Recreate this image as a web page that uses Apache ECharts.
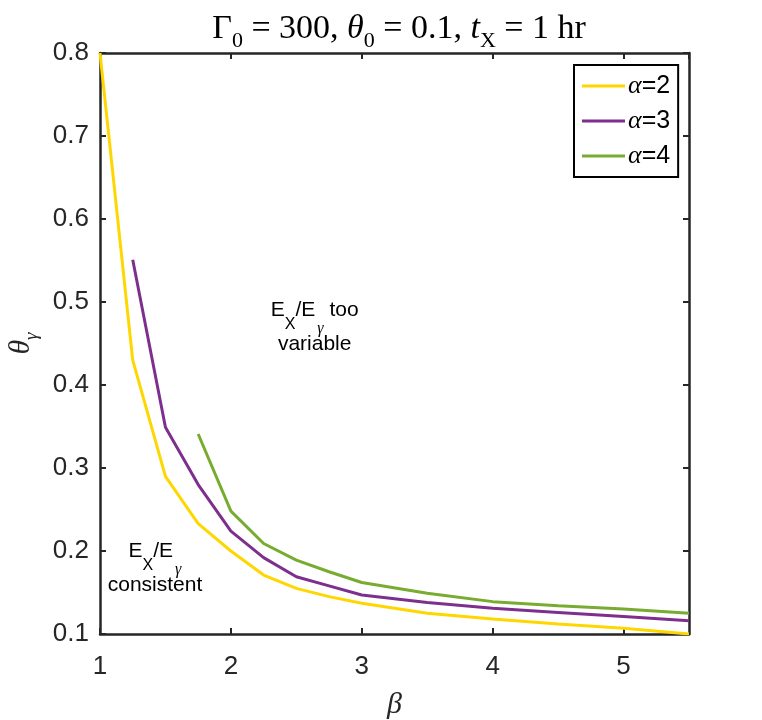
<!DOCTYPE html>
<html>
<head>
<meta charset="utf-8">
<script src="https://cdn.jsdelivr.net/npm/echarts@6/dist/echarts.min.js"></script>
<style>
  html, body { margin: 0; padding: 0; background: #fff; }
  #chart { width: 762px; height: 720px; }
</style>
</head>
<body>
<div id="chart"></div>
<script>
// beta grid and theta_gamma curves, one per alpha
var beta2 = [1, 1.25, 1.5, 1.75, 2, 2.25, 2.5, 2.75, 3, 3.5, 4, 4.5, 5, 5.5];
var theta2 = [0.80, 0.43, 0.29, 0.233, 0.200, 0.171, 0.155, 0.145, 0.137, 0.125, 0.118, 0.112, 0.107, 0.100];

var beta3 = [1.25, 1.5, 1.75, 2, 2.25, 2.5, 2.75, 3, 3.5, 4, 4.5, 5, 5.5];
var theta3 = [0.551, 0.349, 0.280, 0.224, 0.192, 0.169, 0.158, 0.147, 0.138, 0.131, 0.126, 0.121, 0.116];

var beta4 = [1.75, 2, 2.25, 2.5, 2.75, 3, 3.5, 4, 4.5, 5, 5.5];
var theta4 = [0.341, 0.248, 0.209, 0.189, 0.175, 0.162, 0.149, 0.139, 0.134, 0.130, 0.125];

var alphaNames = ['2', '3', '4'];

function pairs(xs, ys) {
    return xs.map(function (x, i) { return [x, ys[i]]; });
}

(function () {
    var chart = echarts.init(document.getElementById('chart'));

    var axisColor = '#262626';
    var sans = 'Liberation Sans';
    var serif = 'Liberation Serif';

    var tickAxis = {
        axisLine: { show: true, lineStyle: { color: axisColor, width: 2.5 } },
        axisTick: { show: true, inside: true, length: 6, lineStyle: { color: axisColor, width: 2 } },
        splitLine: { show: false }
    };

    var noteRich = {
        n: { fontFamily: sans, fontSize: 21, color: '#000', lineHeight: 34, verticalAlign: 'top' },
        sx: { fontFamily: sans, fontSize: 16, color: '#000', lineHeight: 16, padding: [17, 0, 0, 0], verticalAlign: 'top' },
        sg: { fontFamily: serif, fontStyle: 'italic', fontSize: 16, color: '#000', lineHeight: 16, padding: [21, 0, 0, 2], verticalAlign: 'top' }
    };

    var option = {
        backgroundColor: '#fff',
        animation: false,

        title: {
            text: '{m|Γ}{s|0}{m| = 300, }{i|θ}{s|0}{m| = 0.1, }{i|t}{s|X}{m| = 1 hr}',
            left: 394,
            textAlign: 'center',
            top: 7,
            textStyle: {
                fontWeight: 'normal',
                rich: {
                    m: { fontFamily: serif, fontWeight: 'normal', fontSize: 34, color: '#000', lineHeight: 36, verticalAlign: 'top' },
                    i: { fontFamily: serif, fontWeight: 'normal', fontStyle: 'italic', fontSize: 34, color: '#000', lineHeight: 36, verticalAlign: 'top' },
                    s: { fontFamily: serif, fontWeight: 'normal', fontSize: 22, color: '#000', lineHeight: 22, padding: [18, 0, 0, 0], verticalAlign: 'top' }
                }
            }
        },

        legend: {
            orient: 'vertical',
            left: 574,
            top: 65,
            padding: [8, 8, 8, 8],
            itemGap: 9,
            itemWidth: 43,
            itemHeight: 3,
            icon: 'rect',
            backgroundColor: '#fff',
            borderColor: '#000',
            borderWidth: 2,
            borderRadius: 0,
            data: alphaNames.map(function (a) { return 'α=' + a; }),
            formatter: function (name) {
                return '{a|α}{b|' + name.slice(1) + '}';
            },
            textStyle: {
                padding: [0, 0, 0, -2],
                rich: {
                    a: { fontFamily: serif, fontStyle: 'italic', fontSize: 26, color: '#000', lineHeight: 24 },
                    b: { fontFamily: sans, fontSize: 25, color: '#000', lineHeight: 24 }
                }
            }
        },

        grid: {
            left: 100,
            right: 73,
            top: 53,
            bottom: 86,
            containLabel: false,
            outerBoundsMode: 'none'
        },

        xAxis: [
            Object.assign({
                type: 'value',
                min: 1,
                max: 5.5,
                interval: 1,
                position: 'bottom',
                name: 'β',
                nameLocation: 'middle',
                nameGap: 56,
                nameTextStyle: { fontFamily: serif, fontStyle: 'italic', fontSize: 30, color: axisColor },
                axisLabel: {
                    fontFamily: sans,
                    fontSize: 26,
                    color: axisColor,
                    margin: 20,
                    showMaxLabel: false
                }
            }, tickAxis),
            Object.assign({
                type: 'value',
                min: 1,
                max: 5.5,
                interval: 1,
                position: 'top',
                axisLabel: { show: false }
            }, tickAxis)
        ],

        yAxis: [
            Object.assign({
                type: 'value',
                min: 0.1,
                max: 0.8,
                interval: 0.1,
                position: 'left',
                name: '{t|θ}{g|γ}',
                nameLocation: 'middle',
                nameGap: 64,
                nameTextStyle: {
                    rich: {
                        t: { fontFamily: serif, fontStyle: 'italic', fontSize: 30, color: axisColor, lineHeight: 30, verticalAlign: 'top' },
                        g: { fontFamily: serif, fontStyle: 'italic', fontSize: 19, color: axisColor, lineHeight: 19, padding: [16, 0, 0, 0], verticalAlign: 'top' }
                    }
                },
                axisLabel: {
                    fontFamily: sans,
                    fontSize: 26,
                    color: axisColor,
                    margin: 11,
                    formatter: function (v) { return v.toFixed(1); }
                }
            }, tickAxis),
            Object.assign({
                type: 'value',
                min: 0.1,
                max: 0.8,
                interval: 0.1,
                position: 'right',
                axisLabel: { show: false }
            }, tickAxis)
        ],

        series: [
            {
                name: 'α=2',
                type: 'line',
                data: pairs(beta2, theta2),
                showSymbol: false,
                color: '#FFD700',
                lineStyle: { width: 3, color: '#FFD700' },
                z: 3,
                markPoint: {
                    symbol: 'circle',
                    symbolSize: 0,
                    silent: true,
                    label: {
                        show: true,
                        position: 'inside',
                        align: 'center',
                        rich: noteRich
                    },
                    data: [
                        {
                            coord: [2.64, 0.462],
                            label: { formatter: '{n|E}{sx|X}{n|/E}{sg|γ}{n| too}\n{n|variable}' }
                        },
                        {
                            coord: [1.42, 0.171],
                            label: { formatter: '{n|E}{sx|X}{n|/E}{sg|γ}\n{n|consistent}' }
                        }
                    ]
                }
            },
            {
                name: 'α=3',
                type: 'line',
                data: pairs(beta3, theta3),
                showSymbol: false,
                color: '#7E2F8E',
                lineStyle: { width: 3, color: '#7E2F8E' },
                z: 3
            },
            {
                name: 'α=4',
                type: 'line',
                data: pairs(beta4, theta4),
                showSymbol: false,
                color: '#77AC30',
                lineStyle: { width: 3, color: '#77AC30' },
                z: 3
            }
        ]
    };

    chart.setOption(option);
})();
</script>
</body>
</html>
